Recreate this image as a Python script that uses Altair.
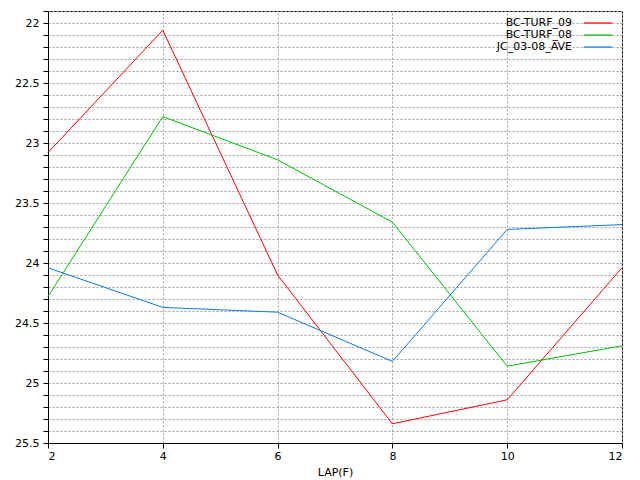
import altair as alt
import pandas as pd
import numpy as np

laps = [2, 4, 6, 8, 10, 12]
series_names = ["BC-TURF_09", "BC-TURF_08", "JC_03-08_AVE"]
bc_turf_09 = [23.08, 22.06, 24.10, 25.34, 25.14, 24.04]
bc_turf_08 = [24.28, 22.78, 23.14, 23.66, 24.86, 24.69]
jc_03_08_ave = [24.04, 24.37, 24.41, 24.82, 23.72, 23.68]
colors = ["#ff0000", "#00c000", "#0a7ae8"]

rows = []
for name, vals in zip(series_names, [bc_turf_09, bc_turf_08, jc_03_08_ave]):
    for lap, v in zip(laps, vals):
        rows.append({"lap": lap, "time": v, "series": name})
df = pd.DataFrame(rows)

y_vals = [round(v, 1) for v in np.arange(21.9, 25.55, 0.1)]
FONT = "DejaVu Sans"

chart = alt.Chart(df).mark_line(strokeWidth=1).encode(
    x=alt.X("lap:Q", title="LAP(F)",
            scale=alt.Scale(domain=[2, 12], nice=False, zero=False),
            axis=alt.Axis(values=laps, grid=True, gridDash=[2, 2], gridColor="#a0a0a0",
                          tickSize=5, labelPadding=2, titlePadding=5)),
    y=alt.Y("time:Q", title=None,
            scale=alt.Scale(domain=[21.9, 25.5], nice=False, zero=False, reverse=True),
            axis=alt.Axis(values=y_vals, grid=True, gridDash=[2, 2], gridColor="#a0a0a0",
                          tickSize=5, labelPadding=4,
                          labelExpr="abs(datum.value*2 - round(datum.value*2)) < 0.001 ? format(datum.value, '~g') : ''")),
    color=alt.Color("series:N",
                    scale=alt.Scale(domain=series_names, range=colors),
                    legend=alt.Legend(title=None, orient="none", legendX=543, legendY=5,
                                      symbolType="M-2.4,0H2.4", symbolSize=144, symbolStrokeWidth=1.2,
                                      labelAlign="right", labelOffset={"expr": "-33"}, rowPadding=0,
                                      labelFontSize=11, labelFont=FONT, padding=0,
                                      symbolOffset=0, labelColor="black")),
).properties(
    width=574, height=432,
    padding={"left": 40, "top": 3, "right": 10, "bottom": 36},
    autosize=alt.AutoSizeParams(type="none"),
).configure_view(
    stroke="black", strokeWidth=1
).configure_axis(
    domainColor="black", tickColor="black", labelColor="black", titleColor="black",
    labelFont=FONT, titleFont=FONT, labelFontSize=11, titleFontSize=11,
    titleFontWeight="normal"
)

chart.save("out.html", embed_options={"renderer": "svg", "actions": False})
